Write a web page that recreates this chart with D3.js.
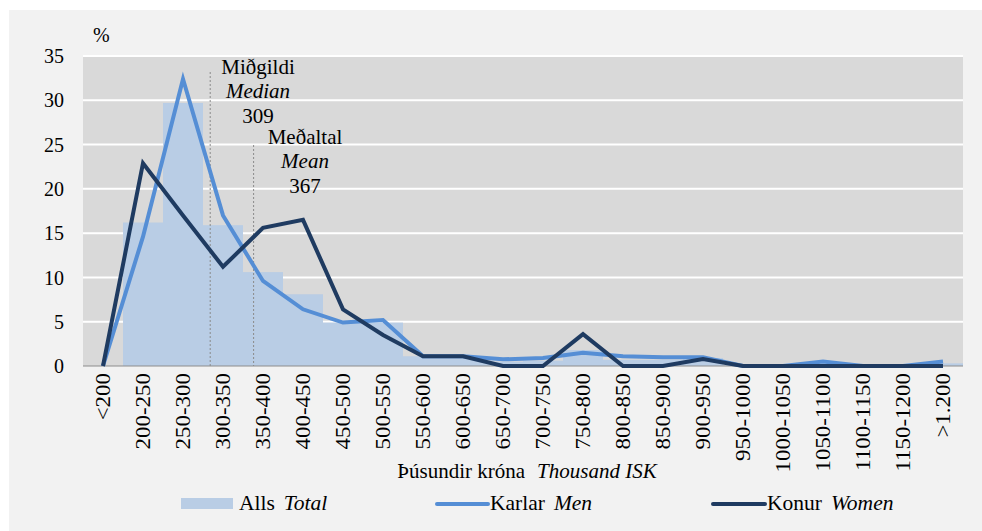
<!DOCTYPE html>
<html><head><meta charset="utf-8">
<script src="https://cdn.jsdelivr.net/npm/d3@7"></script>
<style>
html,body{margin:0;padding:0;background:#fff;}
svg text, svg tspan{font-family:'Liberation Serif','Times New Roman',serif !important;}
</style></head>
<body>
<svg id="chart" width="982" height="531" style="font-family:'Liberation Serif'"></svg>
<script>
const categories = ["<200","200-250","250-300","300-350","350-400","400-450","450-500","500-550","550-600","600-650","650-700","700-750","750-800","800-850","850-900","900-950","950-1000","1000-1050","1050-1100","1100-1150","1150-1200",">1.200"];
const totalValues = [0,16.2,29.7,15.9,10.6,8.1,4.9,4.9,1.1,1.1,0.5,0.6,1.8,0.7,0.7,0.9,0.1,0.1,0.3,0.1,0.1,0.3];
const menValues   = [0,14.6,32.4,17.0,9.6,6.4,4.9,5.2,1.1,1.1,0.75,0.9,1.5,1.1,1.0,1.0,0,0,0.5,0,0,0.5];
const womenValues = [0,22.9,17.0,11.2,15.6,16.5,6.4,3.5,1.1,1.1,0,0,3.6,0,0,0.8,0,0,0,0,0,0];
const yTicks = [0,5,10,15,20,25,30,35];
const medianValue = 309, meanValue = 367;
const medianLabel = ["Miðgildi","Median","309"];
const meanLabel = ["Meðaltal","Mean","367"];

const FONT = "'Liberation Serif', 'Times New Roman', serif";
const svg = d3.select("#chart");
const W = 982, H = 531;
const plot = {left:83, right:963, top:56, bottom:366};

function txt(sel){ return sel.style("font-family",FONT).attr("fill","#000"); }

svg.append("rect").attr("x",9).attr("y",10).attr("width",W-9).attr("height",H-10).attr("fill","#f2f2f2");

const x = d3.scaleBand().domain(categories).range([plot.left, plot.right]).padding(0);
const y = d3.scaleLinear().domain([0,35]).range([plot.bottom, plot.top]);
const xv = d3.scaleLinear().domain([150, 150 + 50*categories.length]).range([plot.left, plot.right]);
const cx = c => x(c) + x.bandwidth()/2;

svg.append("rect").attr("x",plot.left).attr("y",plot.top).attr("width",plot.right-plot.left).attr("height",plot.bottom-plot.top).attr("fill","#d9d9d9");

svg.append("g").selectAll("line").data(yTicks.filter(d=>d>0)).join("line")
  .attr("x1",plot.left).attr("x2",plot.right)
  .attr("y1",d=>y(d)).attr("y2",d=>y(d))
  .attr("stroke","#ffffff").attr("stroke-width",2);

svg.append("g").selectAll("rect").data(categories).join("rect")
  .attr("x",c=>x(c)).attr("width",x.bandwidth())
  .attr("y",(c,i)=>y(totalValues[i])).attr("height",(c,i)=>y(0)-y(totalValues[i]))
  .attr("fill","#b9cde5");

svg.append("line").attr("x1",plot.left).attr("x2",plot.right).attr("y1",y(0)).attr("y2",y(0))
  .attr("stroke","#8c8c8c").attr("stroke-width",1);

const yAxis = d3.axisLeft(y).tickValues(yTicks).tickSize(0).tickPadding(0);
const ya = svg.append("g").attr("transform","translate(64,0)").call(yAxis);
ya.attr("font-family",null);
ya.select(".domain").remove();
txt(ya.selectAll("text")).attr("font-size",20).attr("dy","0.33em");
ya.attr("font-size",20);

txt(svg.append("text")).attr("x",93).attr("y",42).attr("font-size",20).text("%");

const xa = svg.append("g");
txt(xa.selectAll("text").data(categories).join("text"))
  .attr("transform",c=>`translate(${cx(c)},373) rotate(-90) scale(1.12,1)`)
  .attr("text-anchor","end").attr("dy","0.33em").attr("font-size",20.5)
  .text(c=>c);

svg.append("line").attr("x1",xv(medianValue)).attr("x2",xv(medianValue)).attr("y1",72).attr("y2",y(0))
  .attr("stroke","#8a8a8a").attr("stroke-width",1).attr("stroke-dasharray","2,2");
svg.append("line").attr("x1",xv(meanValue)-3).attr("x2",xv(meanValue)-3).attr("y1",145).attr("y2",y(0))
  .attr("stroke","#8a8a8a").attr("stroke-width",1).attr("stroke-dasharray","2,2");

const line = d3.line().x((d,i)=>cx(categories[i])).y(d=>y(d));
svg.append("path").datum(menValues).attr("d",line).attr("fill","none").attr("stroke","#558ed5").attr("stroke-width",4).attr("stroke-linejoin","miter");
svg.append("path").datum(womenValues).attr("d",line).attr("fill","none").attr("stroke","#1f3b61").attr("stroke-width",4).attr("stroke-linejoin","miter");

function block(lines, xc, y0){
  lines.forEach((t,i)=>{
    txt(svg.append("text")).attr("x",xc).attr("y",y0+i*24.3).attr("text-anchor","middle")
      .attr("font-size",21).attr("font-style",i===1?"italic":"normal").text(t);
  });
}
block(medianLabel, 258, 74);
block(meanLabel, 305, 144);

const at = txt(svg.append("text")).attr("x",527).attr("y",478).attr("text-anchor","middle").attr("font-size",21);
at.append("tspan").text("Þúsundir króna");
at.append("tspan").attr("dx",12).attr("font-style","italic").text("Thousand ISK");

const lg = svg.append("g");
function legendText(xp, a, b){
  const t = txt(lg.append("text")).attr("x",xp).attr("y",510).attr("font-size",21.5);
  t.append("tspan").text(a);
  t.append("tspan").attr("dx",9).attr("font-style","italic").text(b);
}
lg.append("rect").attr("x",181).attr("y",498).attr("width",52).attr("height",11).attr("fill","#b9cde5");
legendText(239,"Alls","Total");
lg.append("line").attr("x1",437).attr("x2",488).attr("y1",504).attr("y2",504).attr("stroke","#558ed5").attr("stroke-width",4).attr("stroke-linecap","round");
legendText(490,"Karlar","Men");
lg.append("line").attr("x1",713).attr("x2",765).attr("y1",504).attr("y2",504).attr("stroke","#1f3b61").attr("stroke-width",4).attr("stroke-linecap","round");
legendText(767,"Konur","Women");
</script>
</body></html>
